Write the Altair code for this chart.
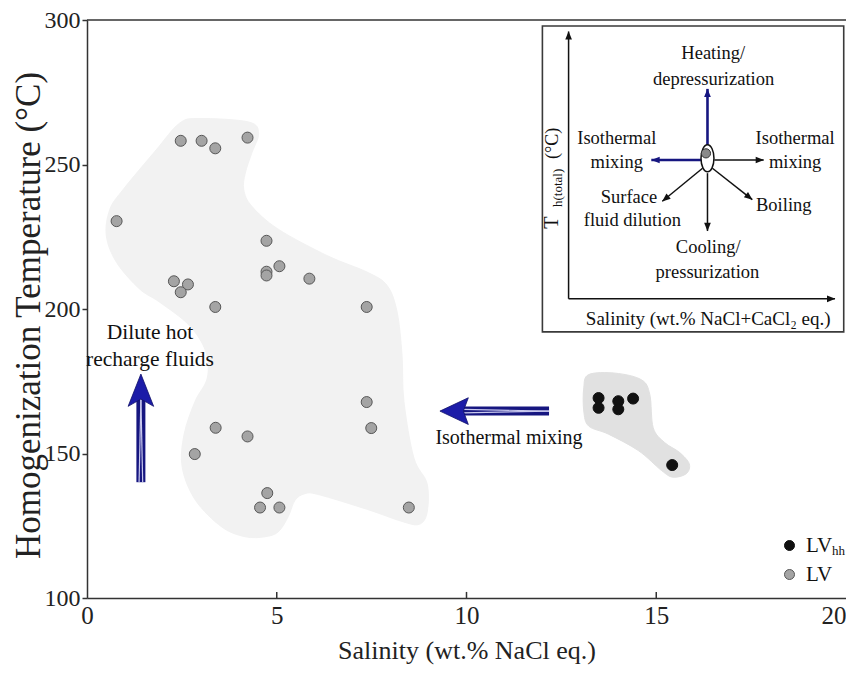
import altair as alt
import pandas as pd

FONT = "Liberation Serif"

# ---------------- data ----------------
lv_salinity = [0.78, 2.47, 3.02, 3.38, 4.23, 4.73, 4.73, 4.73, 5.07, 5.86, 2.29, 2.66,
               2.47, 3.38, 7.37, 7.37, 7.49, 3.39, 4.23, 2.84, 4.75, 4.56, 5.07, 8.48]
lv_th = [230.4, 258.2, 258.2, 255.6, 259.3, 223.6, 212.9, 211.6, 214.8, 210.5, 209.6, 208.5,
         205.8, 200.7, 200.7, 167.8, 158.8, 158.9, 155.9, 149.8, 136.3, 131.3, 131.3, 131.3]
lvhh_salinity = [13.48, 13.48, 14.0, 14.0, 14.39, 15.42]
lvhh_th = [169.2, 165.8, 168.1, 165.3, 169.0, 146.0]

# outline of the LV field (grey envelope)
lv_field_sal = [2.43, 2.95, 4.26, 4.52, 4.34, 4.17, 4.13, 4.34, 5.04, 6.34, 7.39, 7.91, 8.17,
                8.30, 8.35, 8.61, 8.96, 8.96, 8.75, 8.3, 7.4, 6.1, 5.74, 5.48, 5.30, 5.04,
                4.69, 4.17, 3.55, 2.86, 2.51, 2.56, 2.85, 3.17, 3.13, 2.69, 1.91, 1.38, 0.78,
                0.51, 0.60, 0.95, 1.82]
lv_field_th = [264.2, 265.9, 264.7, 260.7, 253.9, 247.0, 241.3, 235.6, 227.6, 218.4, 212.7,
               208.1, 199.0, 184.1, 168.1, 148.6, 139.6, 129.5, 125.5, 126.5, 130.6, 135.8,
               136.1, 133.8, 128.1, 122.9, 121.2, 121.2, 124.6, 133.8, 145.2, 156.7, 168.1,
               176.1, 185.3, 194.4, 202.4, 207.0, 216.1, 225.3, 234.4, 241.3, 255.0]
# outline of the LVhh field
lvhh_field_sal = [13.22, 13.92, 14.61, 14.83, 14.92, 15.22, 15.61, 15.87, 15.79, 15.44, 15.14,
                  14.53, 13.74, 13.22, 13.09, 13.09]
lvhh_field_th = [177.3, 177.8, 175.5, 170.4, 158.9, 153.8, 150.4, 146.4, 143.0, 141.8, 144.1,
                 151.0, 156.7, 159.5, 164.7, 172.7]

x_ticks = [0, 5, 10, 15, 20]
y_ticks = [100, 150, 200, 250, 300]
series = ["LVhh", "LV"]

# ---------------- scales / axes ----------------
XS = alt.Scale(domain=[0, 20], nice=False, zero=False)
YS = alt.Scale(domain=[100, 300], nice=False, zero=False)

x_axis = alt.Axis(values=x_ticks, title="Salinity (wt.% NaCl eq.)", ticks=False, grid=False,
                  labelFont=FONT, labelFontSize=25, labelColor="#222", labelPadding=5,
                  labelAlign={"expr": "datum.value == 20 ? 'right' : 'center'"},
                  domainColor="#333", domainWidth=1.5,
                  titleFont=FONT, titleFontSize=26, titleFontWeight="normal", titleColor="#222",
                  titleY=52, titleBaseline="middle")
y_axis = alt.Axis(values=y_ticks, title="Homogenization Temperature (°C)", grid=False,
                  tickSize=5, tickColor="#333", tickWidth=1.5,
                  labelFont=FONT, labelFontSize=24, labelColor="#222", labelPadding=2,
                  domainColor="#333", domainWidth=1.5,
                  titleFont=FONT, titleFontSize=35, titleFontWeight="normal", titleColor="#222",
                  titleX=-59, titleY=295, titleAngle=270, titleAlign="center",
                  titleBaseline="middle")


def X(field="x"):
    return alt.X(f"{field}:Q", scale=XS, axis=x_axis)


def Y(field="y"):
    return alt.Y(f"{field}:Q", scale=YS, axis=y_axis)


# ---------------- envelopes ----------------
def field_layer(xs, ys, color):
    df = pd.DataFrame({"x": xs, "y": ys, "o": list(range(len(xs)))})
    return alt.Chart(df).mark_line(interpolate="cardinal-closed", fill=color, stroke=color,
                                   strokeWidth=1).encode(x=X(), y=Y(), order="o:Q")


lv_field = field_layer(lv_field_sal, lv_field_th, "#f2f2f2")
lvhh_field = field_layer(lvhh_field_sal, lvhh_field_th, "#e1e1e1")

# frame top line and inward x ticks
top_line = alt.Chart(pd.DataFrame({"x": [0], "x2": [20], "y": [300]})).mark_rule(
    color="#333", strokeWidth=1.5).encode(x=X(), x2="x2:Q", y=Y())
xt = alt.Chart(pd.DataFrame({"x": [5, 10, 15], "y": [100] * 3, "y2": [102.1] * 3})).mark_rule(
    color="#333", strokeWidth=1.5).encode(x=X(), y=Y(), y2="y2:Q")

# ---------------- process arrows in main plot ----------------
NAVY = "#161680"
shafts = pd.DataFrame({"x": [1.42, 9.914], "x2": [1.42, 12.175],
                       "y": [140.07, 164.67], "y2": [168.8, 164.67]})
shaft_base = alt.Chart(shafts).mark_rule(color=NAVY, strokeWidth=9).encode(
    x=X(), x2="x2:Q", y=Y(), y2="y2:Q")
vs = shafts.iloc[[0]]
hs = shafts.iloc[[1]]
shaft_lines = []
for off in (-1.8, 1.8):
    shaft_lines.append(alt.Chart(vs).mark_rule(color="#c9c9ee", strokeWidth=1.2, xOffset=off)
                       .encode(x=X(), x2="x2:Q", y=Y(), y2="y2:Q"))
    shaft_lines.append(alt.Chart(hs).mark_rule(color="#c9c9ee", strokeWidth=1.2, yOffset=off)
                       .encode(x=X(), x2="x2:Q", y=Y(), y2="y2:Q"))

head_up = alt.Chart(pd.DataFrame({"x": [1.42], "y": [171.9]})).mark_point(
    shape="M0,-1L0.79,1L0,0.55L-0.79,1Z", size=1043, filled=True, fill="#1c1ca8",
    stroke="#10106a", strokeWidth=0.8, opacity=1).encode(x=X(), y=Y())
head_left = alt.Chart(pd.DataFrame({"x": [9.674], "y": [164.67]})).mark_point(
    shape="M-1,0L1,-0.94L0.65,0L1,0.94Z", size=806, filled=True, fill="#1c1ca8",
    stroke="#10106a", strokeWidth=0.8, opacity=1).encode(x=X(), y=Y())

main_text = pd.DataFrame({
    "x": [1.66, 1.66, 11.12],
    "y": [191.8, 182.2, 155.2],
    "t": ["Dilute hot", "recharge fluids", "Isothermal mixing"],
    "fs": [21.5, 21.5, 20],
})
main_labels = alt.Chart(main_text).mark_text(font=FONT, color="#111", baseline="middle",
                                             align="center").encode(
    x=X(), y=Y(), text="t:N", size=alt.Size("fs:Q", scale=None))

# ---------------- inset schematic ----------------
inset_frame = alt.Chart(pd.DataFrame({"x": [12.0], "x2": [19.94], "y": [192.1], "y2": [297.9]})
                        ).mark_rect(fill="white", stroke="#3a3a3a", strokeWidth=1.6).encode(
    x=X(), x2="x2:Q", y=Y(), y2="y2:Q")

inset_lines = pd.DataFrame({
    "x": [12.69, 12.69, 16.35, 16.18, 16.53, 16.35, 16.22, 16.48],
    "y": [203.53, 203.53, 256.7, 251.56, 251.56, 247.0, 248.71, 248.71],
    "x2": [12.69, 19.71, 16.35, 14.87, 17.83, 16.35, 15.16, 17.53],
    "y2": [296.0, 203.53, 276.16, 251.56, 251.56, 227.0, 237.27, 237.84],
    "c": ["#111", "#111", NAVY, NAVY, "#111", "#111", "#111", "#111"],
    "w": [1.5, 1.5, 2.6, 2.6, 1.5, 1.5, 1.5, 1.5],
})
inset_rules = alt.Chart(inset_lines).mark_rule().encode(
    x=X(), x2="x2:Q", y=Y(), y2="y2:Q",
    color=alt.Color("c:N", scale=None), strokeWidth=alt.StrokeWidth("w:Q", scale=None))

inset_heads = pd.DataFrame({
    "x": [16.35, 14.98, 17.73, 16.35, 15.24, 17.45, 12.69, 19.61],
    "y": [274.79, 251.56, 251.56, 228.37, 238.15, 238.7, 294.68, 203.53],
    "a": [0, 270, 90, 180, 230.6, 128.4, 0, 90],
    "c": [NAVY, NAVY, "#111", "#111", "#111", "#111", "#111", "#111"],
})
heads = alt.Chart(inset_heads).mark_point(shape="M0,-1L0.8,1L-0.8,1Z", size=70, filled=True,
                                          opacity=1).encode(
    x=X(), y=Y(), angle=alt.Angle("a:Q", scale=None), fill=alt.Fill("c:N", scale=None))

ellipse = alt.Chart(pd.DataFrame({"x": [16.35], "y": [252.14]})).mark_point(
    shape="M0,-1A0.48,1,0,1,1,0,1A0.48,1,0,1,1,0,-1Z", size=729, filled=True, fill="white",
    stroke="#111", strokeWidth=1.5, opacity=1).encode(x=X(), y=Y())
dot = alt.Chart(pd.DataFrame({"x": [16.31], "y": [253.86]})).mark_point(
    shape="circle", size=85, filled=True, fill="#8a8a8a", stroke="#333", strokeWidth=1,
    opacity=1).encode(x=X(), y=Y())

inset_text = pd.DataFrame({
    "x": [16.50, 16.51, 13.96, 13.96, 18.66, 18.66, 14.28, 14.37, 18.36, 16.37, 16.35, 16.37,
          12.25, 12.41, 12.27],
    "y": [288.75, 279.6, 259.0, 251.0, 259.0, 251.0, 238.8, 230.8, 236.1, 221.3, 212.7, 196.7,
          229.85, 241.9, 257.3],
    "t": ["Heating/", "depressurization", "Isothermal", "mixing", "Isothermal", "mixing",
          "Surface", "fluid dilution", "Boiling", "Cooling/", "pressurization",
          "Salinity (wt.% NaCl+CaCl₂ eq.)", "T", "h(total)", "(°C)"],
    "fs": [18.5] * 11 + [19, 20, 13, 18],
    "a": [0] * 12 + [270, 270, 270],
})
inset_labels = alt.Chart(inset_text).mark_text(font=FONT, color="#111", baseline="middle",
                                               align="center").encode(
    x=X(), y=Y(), text="t:N", size=alt.Size("fs:Q", scale=None),
    angle=alt.Angle("a:Q", scale=None))

# ---------------- fluid inclusion data ----------------
pts = pd.DataFrame({
    "x": lv_salinity + lvhh_salinity,
    "y": lv_th + lvhh_th,
    "type": ["LV"] * len(lv_salinity) + ["LVhh"] * len(lvhh_salinity),
})
leg = dict(title=None, orient="none", legendX=692, legendY=515, padding=0,
           labelFont=FONT, labelFontSize=21, labelColor="#111", symbolSize=100,
           symbolStrokeWidth=1, rowPadding=7, labelOffset=6,
           labelExpr="datum.label == 'LVhh' ? 'LV' : datum.label")
points = alt.Chart(pts).mark_point(filled=True, size=121, strokeWidth=1, opacity=1,
                                   shape="circle").encode(
    x=X(), y=Y(),
    fill=alt.Fill("type:N", scale=alt.Scale(domain=series, range=["#111111", "#a4a4a4"]),
                  legend=alt.Legend(**leg)),
    stroke=alt.Stroke("type:N", scale=alt.Scale(domain=series, range=["#111111", "#575757"]),
                      legend=alt.Legend(**leg)),
)
# subscript of the LVhh legend entry
sub_hh = alt.Chart(pd.DataFrame({"x": [19.63], "y": [116.3], "t": ["hh"]})).mark_text(
    font=FONT, fontSize=13, color="#111", align="left", baseline="middle").encode(
    x=X(), y=Y(), text="t:N")

chart = alt.layer(
    lv_field, lvhh_field, top_line, xt,
    shaft_base, *shaft_lines, head_up, head_left, main_labels,
    inset_frame, inset_rules, ellipse, dot, heads, inset_labels,
    points, sub_hh,
).properties(
    width=759, height=578,
    padding={"left": 79, "top": 12, "right": 0, "bottom": 69},
    autosize=alt.AutoSizeParams(type="none"),
    background="white",
).configure_view(stroke=None)

chart.save("out.html", embed_options={"renderer": "svg", "actions": False})
